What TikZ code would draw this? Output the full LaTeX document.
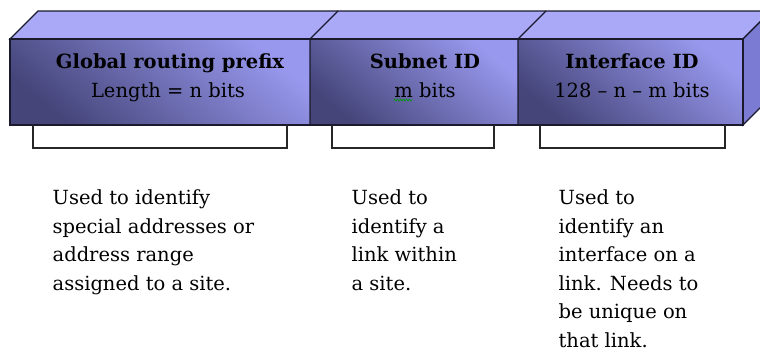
\documentclass[tikz,border=0pt]{standalone}
\usepackage{fontspec}
\setmainfont{DejaVu Serif}
\usetikzlibrary{decorations.pathmorphing}
\definecolor{facetop}{HTML}{A9A9F8}
\definecolor{faceside}{HTML}{7B7BD4}
\definecolor{facedark}{HTML}{45457A}
\definecolor{facelight}{HTML}{9898EE}
\definecolor{edgeline}{HTML}{1A1A2C}

\begin{document}
\begin{tikzpicture}[x=1pt, y=-1pt, line width=1.3pt,
    frontface/.style={top color=facelight, bottom color=facedark, shading angle=-40},
    fieldname/.style={inner sep=0pt, anchor=base, font=\fontsize{19.5}{22}\selectfont\bfseries},
    fieldsize/.style={inner sep=0pt, anchor=base, font=\fontsize{19.5}{22}\selectfont},
    usage/.style={inner sep=0pt, anchor=north west, align=left, font=\fontsize{19.5}{28.6}\selectfont}]
    \useasboundingbox (0,0) rectangle (760,351);
    \begin{scope}
      \clip (0,0) rectangle (760,351);
      \filldraw[draw=edgeline, fill=facetop] (10,39) -- (38,11) -- (771,11) -- (743,39) -- cycle;
      \filldraw[draw=edgeline, fill=faceside] (743,39) -- (771,11) -- (771,97) -- (743,125) -- cycle;
    \end{scope}
    \shade[frontface] (10,39) rectangle (310,125);
    \shade[frontface] (310,39) rectangle (518,125);
    \shade[frontface] (518,39) rectangle (743,125);
    \draw[edgeline] (10,39) rectangle (743,125);
    \draw[edgeline] (310,39) -- (310,125) (518,39) -- (518,125)
                    (310,39) -- (338,11) (518,39) -- (546,11);
    % brackets under the fields
    \draw[black!85] (33,125) -- (33,148) -- (287,148) -- (287,125)
                    (332,125) -- (332,148) -- (494,148) -- (494,125)
                    (540,125) -- (540,148) -- (725,148) -- (725,125);

    \node[fieldname] (prefixname) at (170,68) {Global routing prefix};
    \node[fieldsize] (prefixsize) at (168,97) {Length = n bits};
    \node[fieldname] (subnetname) at (425,68) {Subnet ID};
    \node[fieldsize] (subnetsize) at (425,97) {m bits};
    \node[fieldname] (ifacename) at (632,68) {Interface ID};
    \node[fieldsize] (ifacesize) at (632,97) {128 – n – m bits};
    \draw[green!60!black, line width=0.6pt, decorate, decoration={zigzag, segment length=3pt, amplitude=1pt}]
      ([yshift=-3pt]subnetsize.base west) -- ++(19,0);

    \node[usage] (prefixuse) at (52,189) {Used to identify\\special addresses or\\address range\\assigned to a site.};
    \node[usage] (subnetuse) at (351,189) {Used to\\identify a\\link within\\a site.};
    \node[usage] (ifaceuse) at (558,189) {Used to\\identify an\\interface on a\\link. Needs to\\be unique on\\that link.};
  \end{tikzpicture}
\end{document}
